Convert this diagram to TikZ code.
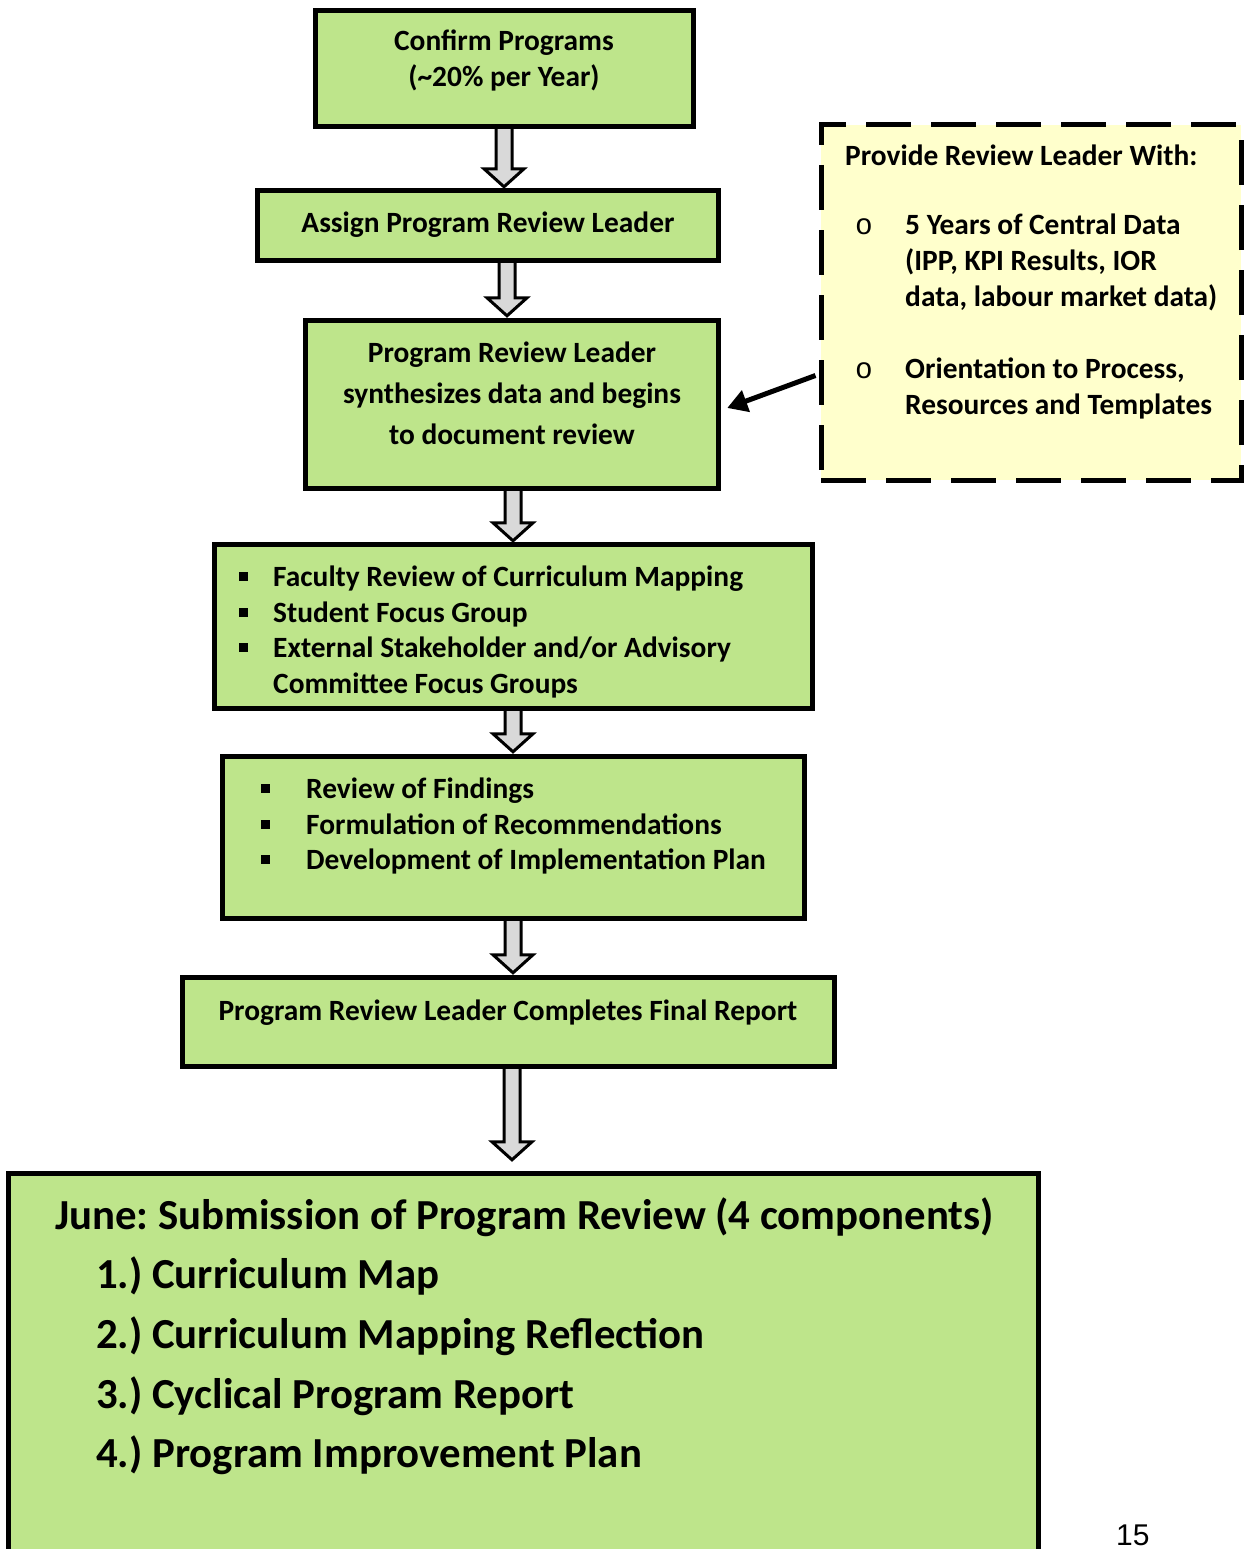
\documentclass[tikz,border=0pt]{standalone}
\usepackage{fontspec}
\setmainfont{Carlito}
\newfontfamily\arialf{Liberation Sans}
\newfontfamily\monof{Liberation Mono}
\usetikzlibrary{arrows.meta,calc}
\definecolor{boxgreen}{RGB}{190,229,139}
\definecolor{noteyellow}{RGB}{255,255,204}
\definecolor{arrowgray}{RGB}{217,217,217}
\frenchspacing
\newcommand\sqbullet{\rule[0.17em]{0.29em}{0.29em}}
\newcommand\blockarrow[4]{%
  \draw[blockarr] let \p1=(#1.south), \p2=(#2.north) in
    (#3pt-8pt,\y1) -- (#3pt-8pt,\y2+#4pt+18pt) -- (#3pt-20pt,\y2+#4pt+18pt)
    -- (#3pt,\y2+#4pt) -- (#3pt+20pt,\y2+#4pt+18pt) -- (#3pt+8pt,\y2+#4pt+18pt)
    -- (#3pt+8pt,\y1) -- cycle;}
\begin{document}
\begin{tikzpicture}[x=1pt,y=-1pt,
  greenbox/.style={draw=black,line width=5pt,fill=boxgreen,inner sep=0pt},
  notebox/.style={draw=black,line width=5pt,fill=noteyellow,inner sep=0pt,dash pattern=on 45pt off 20pt},
  blockarr/.style={draw=black,line width=3pt,fill=arrowgray,line join=miter},
  txt/.style={font=\fontsize{29.4}{36}\selectfont\bfseries\frenchspacing,inner sep=0pt},
  bigtxt/.style={font=\fontsize{42.8}{50}\selectfont\bfseries\frenchspacing,inner sep=0pt},
  pagenum/.style={font=\fontsize{30}{36}\selectfont\arialf,inner sep=0pt}]
\clip (0,0) rectangle (1249,1549);
\fill[white] (0,0) rectangle (1249,1549);
\path (504.5,68.5) coordinate (c1) (488,225.5) coordinate (c2) (512,404.5) coordinate (c3)
      (513.5,626.5) coordinate (c4) (513.5,837.5) coordinate (c5) (508.5,1022) coordinate (c6)
      (523.5,1367) coordinate (c7);
\node[minimum width=377pt,minimum height=115pt,inner sep=0pt] (b1) at (c1) {};
\node[minimum width=460pt,minimum height=69pt,inner sep=0pt] (b2) at (c2) {};
\node[minimum width=412pt,minimum height=167pt,inner sep=0pt] (b3) at (c3) {};
\node[minimum width=597pt,minimum height=163pt,inner sep=0pt] (b4) at (c4) {};
\node[minimum width=581pt,minimum height=161pt,inner sep=0pt] (b5) at (c5) {};
\node[minimum width=651pt,minimum height=88pt,inner sep=0pt] (b6) at (c6) {};
\node[minimum width=1029pt,minimum height=386pt,inner sep=0pt] (b7) at (c7) {};
% block arrows
\blockarrow{b1}{b2}{504}{4}
\blockarrow{b2}{b3}{507}{5}
\blockarrow{b3}{b4}{513}{4}
\blockarrow{b4}{b5}{513}{5}
\blockarrow{b5}{b6}{513}{5}
\blockarrow{b6}{b7}{512}{14}
% draw boxes
\foreach \b in {b1,b2,b3,b4,b5,b6,b7}{
  \draw[greenbox] (\b.north west) rectangle (\b.south east);
}
% note box
\node[notebox,minimum width=420pt,minimum height=355pt] (dbox) at (1031,302.5) {};
% texts
\node[txt,anchor=base] (t1a) at (504,51) {Confirm Programs};
\node[txt,anchor=base] (t1b) at (504,87) {(\textasciitilde 20\% per Year)};
\node[txt,anchor=base] (t2) at (488,233) {Assign Program Review Leader};
\node[txt,anchor=base] (t3a) at (512,362) {Program Review Leader};
\node[txt,anchor=base] (t3b) at (512,403) {synthesizes data and begins};
\node[txt,anchor=base] (t3c) at (512,444) {to document review};
\node[txt,anchor=base west] (t4a) at (239,586) {\makebox[34pt][l]{\sqbullet}Faculty Review of Curriculum Mapping};
\node[txt,anchor=base west] (t4b) at (239,622) {\makebox[34pt][l]{\sqbullet}Student Focus Group};
\node[txt,anchor=base west] (t4c) at (239,657) {\makebox[34pt][l]{\sqbullet}External Stakeholder and/or Advisory};
\node[txt,anchor=base west] (t4d) at (273,693) {Committee Focus Groups};
\node[txt,anchor=base west] (t5a) at (261,798) {\makebox[45pt][l]{\sqbullet}Review of Findings};
\node[txt,anchor=base west] (t5b) at (261,834) {\makebox[45pt][l]{\sqbullet}Formulation of Recommendations};
\node[txt,anchor=base west] (t5c) at (261,869) {\makebox[45pt][l]{\sqbullet}Development of Implementation Plan};
\node[txt,anchor=base] (t6) at (508,1020) {Program Review Leader Completes Final Report};
\node[bigtxt,anchor=base west] (t7a) at (55,1229) {June: Submission of Program Review (4 components)};
\node[bigtxt,anchor=base west] (t7b) at (96,1288) {1.) Curriculum Map};
\node[bigtxt,anchor=base west] (t7c) at (96,1348) {2.) Curriculum Mapping Reflection};
\node[bigtxt,anchor=base west] (t7d) at (96,1408) {3.) Cyclical Program Report};
\node[bigtxt,anchor=base west] (t7e) at (96,1467) {4.) Program Improvement Plan};
% note texts
\node[txt,anchor=base west] (n0) at (845,166) {Provide Review Leader With:};
\node[txt,anchor=base] (n1o) at (864,234) {\monof\mdseries o};
\node[txt,anchor=base west] (n1a) at (905,234) {5 Years of Central Data};
\node[txt,anchor=base west] (n1b) at (905,270) {(IPP, KPI Results, IOR};
\node[txt,anchor=base west] (n1c) at (905,306) {data, labour market data)};
\node[txt,anchor=base] (n2o) at (864,378) {\monof\mdseries o};
\node[txt,anchor=base west] (n2a) at (905,378) {Orientation to Process,};
\node[txt,anchor=base west] (n2b) at (905,414) {Resources and Templates};
% connector from note to box 3
\draw[line width=5pt,-{Triangle[length=20pt,width=22pt]}]
  ([xshift=-3pt,yshift=-73pt]dbox.west) -- ([xshift=9pt,yshift=-3.5pt]b3.east);
% page number
\node[pagenum,anchor=base west] (pg) at (1116,1545) {15};
\end{tikzpicture}
\end{document}
